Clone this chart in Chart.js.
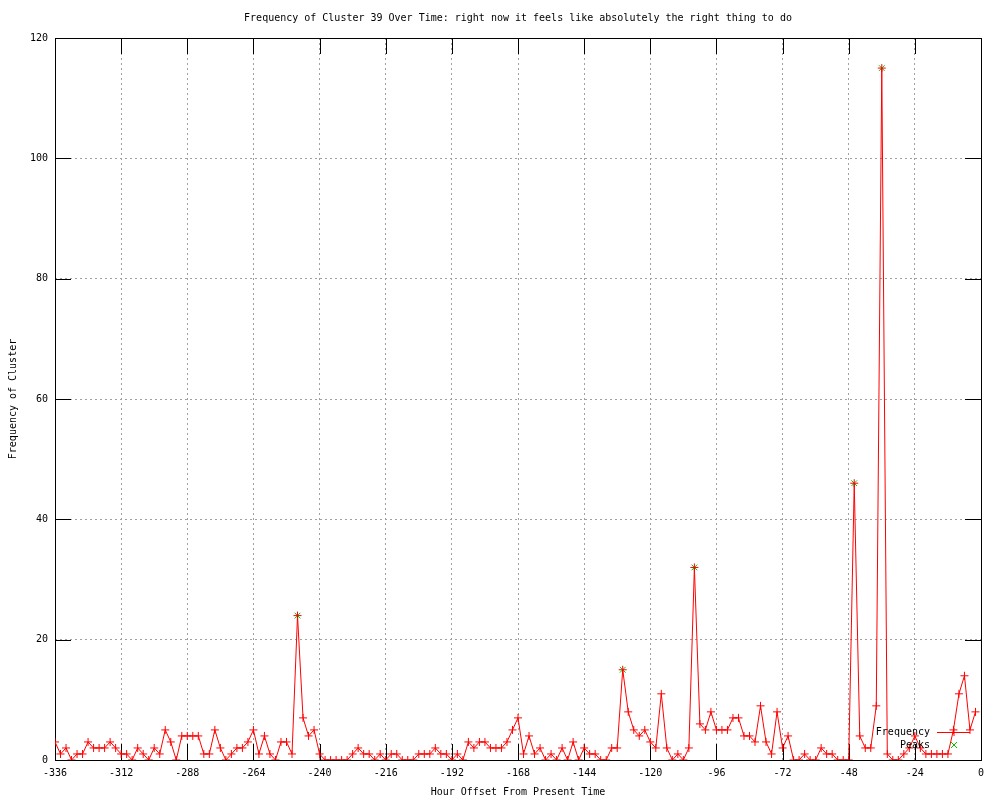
<!DOCTYPE html>
<html>
<head>
<meta charset="utf-8">
<script src="https://cdn.jsdelivr.net/npm/chart.js@4.4.1/dist/chart.umd.min.js"></script>
<style>
  body { margin: 0; background: #fff; }
  #wrap { width: 1000px; height: 800px; }
</style>
</head>
<body>
<div id="wrap"><canvas id="clusterChart" width="1000" height="800"></canvas></div>
<script>
// hour offsets, one sample every 2 hours
const hours = [
  -336, -334, -332, -330, -328, -326, -324, -322, -320, -318, -316, -314,
  -312, -310, -308, -306, -304, -302, -300, -298, -296, -294, -292, -290,
  -288, -286, -284, -282, -280, -278, -276, -274, -272, -270, -268, -266,
  -264, -262, -260, -258, -256, -254, -252, -250, -248, -246, -244, -242,
  -240, -238, -236, -234, -232, -230, -228, -226, -224, -222, -220, -218,
  -216, -214, -212, -210, -208, -206, -204, -202, -200, -198, -196, -194,
  -192, -190, -188, -186, -184, -182, -180, -178, -176, -174, -172, -170,
  -168, -166, -164, -162, -160, -158, -156, -154, -152, -150, -148, -146,
  -144, -142, -140, -138, -136, -134, -132, -130, -128, -126, -124, -122,
  -120, -118, -116, -114, -112, -110, -108, -106, -104, -102, -100, -98,
  -96, -94, -92, -90, -88, -86, -84, -82, -80, -78, -76, -74,
  -72, -70, -68, -66, -64, -62, -60, -58, -56, -54, -52, -50,
  -48, -46, -44, -42, -40, -38, -36, -34, -32, -30, -28, -26,
  -24, -22, -20, -18, -16, -14, -12, -10, -8, -6, -4, -2
];

const frequency = [
  3, 1, 2, 0, 1, 1, 3, 2, 2, 2, 3, 2,
  1, 1, 0, 2, 1, 0, 2, 1, 5, 3, 0, 4,
  4, 4, 4, 1, 1, 5, 2, 0, 1, 2, 2, 3,
  5, 1, 4, 1, 0, 3, 3, 1, 24, 7, 4, 5,
  1, 0, 0, 0, 0, 0, 1, 2, 1, 1, 0, 1,
  0, 1, 1, 0, 0, 0, 1, 1, 1, 2, 1, 1,
  0, 1, 0, 3, 2, 3, 3, 2, 2, 2, 3, 5,
  7, 1, 4, 1, 2, 0, 1, 0, 2, 0, 3, 0,
  2, 1, 1, 0, 0, 2, 2, 15, 8, 5, 4, 5,
  3, 2, 11, 2, 0, 1, 0, 2, 32, 6, 5, 8,
  5, 5, 5, 7, 7, 4, 4, 3, 9, 3, 1, 8,
  2, 4, 0, 0, 1, 0, 0, 2, 1, 1, 0, 0,
  0, 46, 4, 2, 2, 9, 115, 1, 0, 0, 1, 2,
  4, 2, 1, 1, 1, 1, 1, 5, 11, 14, 5, 8
];

const peakHours = [-248, -130, -104, -46, -36];
const peakValues = [24, 15, 32, 46, 115];

const xTicks = { min: -336, max: 0, step: 24 };
const yTicks = { min: 0, max: 120, step: 20 };

const titleText = 'Frequency of Cluster 39 Over Time: right now it feels like absolutely the right thing to do';
const fontFamily = "'DejaVu Sans Mono', monospace";

// gnuplot style frame, inward tics, centered title and key
const gnuplotFrame = {
  id: 'gnuplotFrame',
  beforeDatasetsDraw(chart) {
    const { ctx, chartArea: a, scales } = chart;
    const tic = 16;
    ctx.save();
    ctx.strokeStyle = '#000';
    ctx.lineWidth = 1;
    ctx.beginPath();
    for (let v = xTicks.min; v <= xTicks.max; v += xTicks.step) {
      const px = Math.round(scales.x.getPixelForValue(v)) + 0.5;
      ctx.moveTo(px, a.bottom); ctx.lineTo(px, a.bottom - tic);
      ctx.moveTo(px, a.top); ctx.lineTo(px, a.top + tic);
    }
    for (let v = yTicks.min; v <= yTicks.max; v += yTicks.step) {
      const py = Math.round(scales.y.getPixelForValue(v)) + 0.5;
      ctx.moveTo(a.left, py); ctx.lineTo(a.left + tic, py);
      ctx.moveTo(a.right, py); ctx.lineTo(a.right - tic, py);
    }
    ctx.stroke();
    ctx.strokeRect(Math.round(a.left) + 0.5, Math.round(a.top) + 0.5,
      Math.round(a.right - a.left), Math.round(a.bottom - a.top));
    ctx.restore();
  },
  afterDraw(chart) {
    const { ctx, chartArea: a } = chart;
    ctx.save();
    ctx.fillStyle = '#000';
    ctx.font = '10px ' + fontFamily;
    ctx.textAlign = 'center';
    ctx.textBaseline = 'middle';
    ctx.fillText(titleText, (a.left + a.right) / 2, 18);

    // key, bottom right inside the plot
    const textRight = a.right - 51;
    const lineY = a.bottom - 28;
    ctx.textAlign = 'right';
    ctx.fillText('Frequency', textRight, lineY);
    ctx.fillText('Peaks', textRight, lineY + 13);
    const sx = textRight + 24;
    ctx.strokeStyle = '#ff0000';
    ctx.lineWidth = 1;
    ctx.beginPath();
    ctx.moveTo(textRight + 7, lineY + 0.5);
    ctx.lineTo(textRight + 40, lineY + 0.5);
    ctx.moveTo(sx, lineY - 4); ctx.lineTo(sx, lineY + 4);
    ctx.stroke();
    ctx.strokeStyle = '#00c000';
    ctx.beginPath();
    ctx.moveTo(sx - 3, lineY + 10); ctx.lineTo(sx + 3, lineY + 16);
    ctx.moveTo(sx + 3, lineY + 10); ctx.lineTo(sx - 3, lineY + 16);
    ctx.stroke();
    ctx.restore();
  }
};

const ctx = document.getElementById('clusterChart').getContext('2d');
const clusterChart = new Chart(ctx, {
  type: 'line',
  data: {
    datasets: [{
      label: 'Frequency',
      data: hours.map((h, i) => ({ x: h, y: frequency[i] })),
      borderColor: '#ff0000',
      backgroundColor: '#ff0000',
      borderWidth: 1,
      pointStyle: 'cross',
      pointRadius: 4,
      pointBorderWidth: 1,
      pointBorderColor: '#ff0000',
      tension: 0,
      fill: false
    }, {
      label: 'Peaks',
      data: peakHours.map((h, i) => ({ x: h, y: peakValues[i] })),
      showLine: false,
      borderColor: '#00c000',
      backgroundColor: '#00c000',
      pointStyle: 'crossRot',
      pointRadius: 4,
      pointBorderWidth: 1,
      pointBorderColor: '#00c000'
    }]
  },
  options: {
    responsive: false,
    animation: false,
    layout: {
      padding: { top: 38, right: 19, left: 0, bottom: 0 }
    },
    plugins: {
      legend: { display: false },
      title: { display: false },
      tooltip: { enabled: false }
    },
    scales: {
      x: {
        type: 'linear',
        min: xTicks.min,
        max: xTicks.max,
        afterFit: (scale) => { scale.height = 40; },
        ticks: {
          stepSize: xTicks.step,
          color: '#000',
          padding: 7,
          maxRotation: 0,
          font: { size: 10, family: fontFamily }
        },
        grid: {
          color: '#a0a0a0',
          lineWidth: 1,
          drawTicks: false
        },
        border: { display: false, dash: [2, 3] },
        title: {
          display: true,
          text: 'Hour Offset From Present Time',
          color: '#000',
          padding: { top: 2, bottom: 2 },
          font: { size: 10, family: fontFamily }
        }
      },
      y: {
        min: yTicks.min,
        max: yTicks.max,
        afterFit: (scale) => { scale.width = 55; },
        ticks: {
          stepSize: yTicks.step,
          color: '#000',
          padding: 7,
          font: { size: 10, family: fontFamily }
        },
        grid: {
          color: '#a0a0a0',
          lineWidth: 1,
          drawTicks: false
        },
        border: { display: false, dash: [2, 3] },
        title: {
          display: true,
          text: 'Frequency of Cluster',
          color: '#000',
          padding: { top: 7, bottom: 7 },
          font: { size: 10, family: fontFamily }
        }
      }
    }
  },
  plugins: [gnuplotFrame]
});
</script>
</body>
</html>
